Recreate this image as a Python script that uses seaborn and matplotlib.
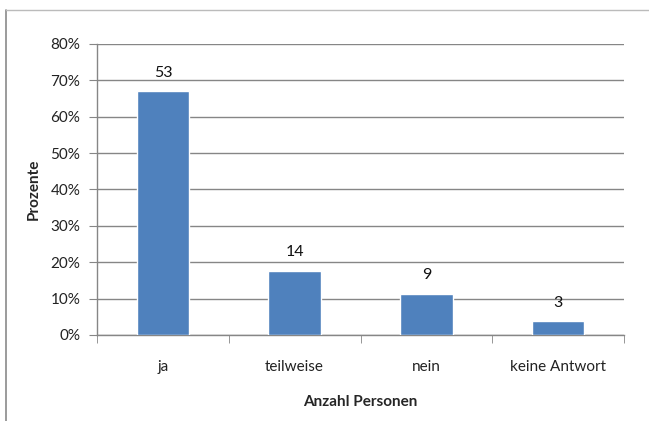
import matplotlib
matplotlib.use("Agg")
import matplotlib.pyplot as plt
from matplotlib.lines import Line2D
from matplotlib.ticker import PercentFormatter
import seaborn as sns
import pandas as pd

# answers and number of people per answer
categories = ["ja", "teilweise", "nein", "keine Antwort"]
counts = [53, 14, 9, 3]
total = sum(counts)
percents = [c / total * 100 for c in counts]

sns.set_style("white")
plt.rcParams["font.family"] = ["Lato", "DejaVu Sans"]

df = pd.DataFrame({"Antwort": categories, "Prozent": percents})

fig = plt.figure(figsize=(6.49, 4.21), dpi=100)
ax = fig.add_axes([0.1495, 0.2043, 0.812, 0.6912])

sns.barplot(data=df, x="Antwort", y="Prozent", color="#4F81BD",
            saturation=1, width=0.4, ax=ax, zorder=3)

# count labels above bars
for i, (p, c) in enumerate(zip(percents, counts)):
    ax.annotate(str(c), (i, p), xytext=(0, 8), textcoords="offset points",
                ha="center", va="bottom", fontsize=11.5, color="#111111")

ax.set_ylim(0, 80)
ax.set_xlim(-0.5, len(categories) - 0.5)
ax.set_yticks(range(0, 81, 10))
ax.yaxis.set_major_formatter(PercentFormatter(decimals=0))
ax.grid(axis="y", color="#868686", linewidth=1, zorder=0)
ax.set_axisbelow(True)

# x ticks between categories
ax.set_xticks([b + 0.5 for b in range(-1, len(categories))], minor=True)
ax.tick_params(axis="x", which="major", length=0, pad=18, labelsize=11,
               labelcolor="#222222")
ax.tick_params(axis="x", which="minor", length=6, color="#868686",
               direction="out", bottom=True)
ax.tick_params(axis="y", length=6, color="#868686", direction="out", left=True,
               labelsize=11, labelcolor="#222222", pad=6)

for s in ["top", "right"]:
    ax.spines[s].set_visible(False)
for s in ["left", "bottom"]:
    ax.spines[s].set_color("#868686")
    ax.spines[s].set_linewidth(1)

ax.set_xlabel("Anzahl Personen", fontsize=11, fontweight="bold", labelpad=15)
ax.set_ylabel("Prozente", fontsize=11, fontweight="bold", labelpad=7)

# outer chart frame (partially visible)
fig.add_artist(Line2D([6 / 649, 6 / 649], [0, 1 - 10 / 421],
                      transform=fig.transFigure, color="#8a8a8a", lw=1.2))
fig.add_artist(Line2D([6 / 649, 1], [1 - 10 / 421, 1 - 10 / 421],
                      transform=fig.transFigure, color="#bbbbbb", lw=1))

fig.savefig("out.png", dpi=100)
plt.close(fig)
